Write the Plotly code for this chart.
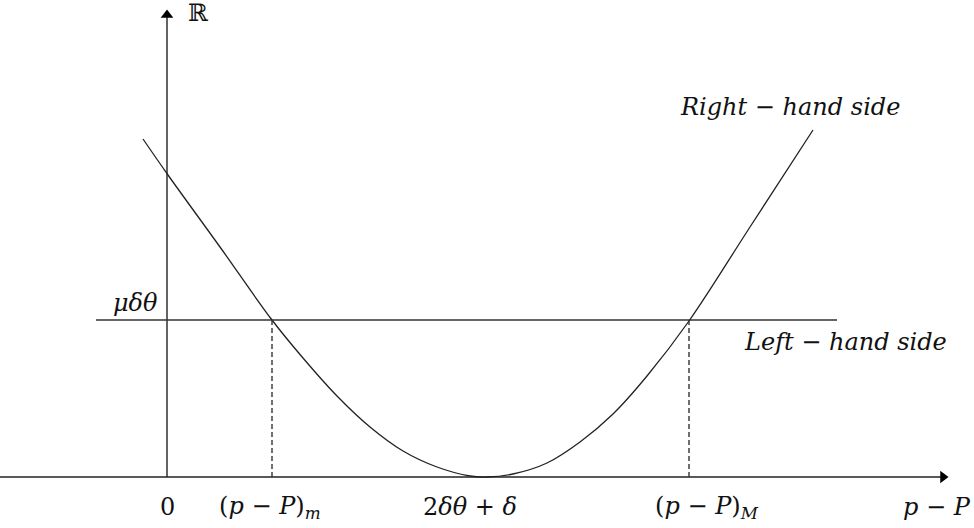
import plotly.graph_objects as go

# sketch of the two sides (arbitrary units, 0 at the origin)
curve_x = [-0.24, 0.01, 0.53, 1.05, 1.36, 1.70, 2.03, 2.36, 2.70, 3.03, 3.20,
           3.46, 3.80, 4.13, 4.46, 4.80, 5.22, 5.83, 6.46]
curve_y = [3.38, 3.02, 2.30, 1.57, 1.19, 0.81, 0.50, 0.26, 0.10, 0.01, 0.00,
           0.03, 0.14, 0.35, 0.63, 1.01, 1.56, 2.50, 3.47]

lhs_level = 1.57            # mu*delta*theta
lhs_x = [-0.71, 6.70]
x_m, x_M = 1.05, 5.22       # crossing points
x_axis = [-1.67, 7.76]
y_axis = [0.0, 4.62]

tick_pos = [0.0, 1.03, 3.03, 5.40]
tick_text = ["0",
             "(<i>p</i> − <i>P</i>)<sub><i>m</i></sub>",
             "2<i>δθ</i> + <i>δ</i>",
             "(<i>p</i> − <i>P</i>)<sub><i>M</i></sub>"]

FONT = "DejaVu Serif"
ink = "#222222"

fig = go.Figure()

# axes
fig.add_trace(go.Scatter(x=x_axis, y=[0, 0], mode="lines",
                         line=dict(color=ink, width=1.4)))
fig.add_trace(go.Scatter(x=[0, 0], y=y_axis, mode="lines",
                         line=dict(color=ink, width=1.4)))
fig.add_trace(go.Scatter(x=[x_axis[1]], y=[0], mode="markers",
                         marker=dict(symbol="triangle-right", size=11, color="black")))
fig.add_trace(go.Scatter(x=[0], y=[y_axis[1]], mode="markers",
                         marker=dict(symbol="triangle-up", size=11, color="black")))

# left-hand side level
fig.add_trace(go.Scatter(x=lhs_x, y=[lhs_level, lhs_level], mode="lines",
                         line=dict(color="#333333", width=1.4)))

# right-hand side curve
fig.add_trace(go.Scatter(x=curve_x, y=curve_y, mode="lines", line_shape="spline",
                         line=dict(color=ink, width=1.3)))

# dashed drop lines
for xv in [x_m, x_M]:
    fig.add_trace(go.Scatter(x=[xv, xv], y=[0, lhs_level], mode="lines",
                             line=dict(color="#333333", width=1.4, dash="5px,3px")))

def label(x, y, text, size=24, xanchor="center"):
    fig.add_annotation(x=x, y=y, text=text, showarrow=False, xanchor=xanchor,
                       yanchor="middle", font=dict(family=FONT, size=size, color="#111111"))

for xp, t in zip(tick_pos, tick_text):
    label(xp, -0.30, t)
label(7.70, -0.30, "<i>p</i> − <i>P</i>")
label(0.31, 4.64, "ℝ", size=24)
label(-0.07, 1.74, "<i>μδθ</i>", xanchor="right")
label(6.78, 1.35, "<i>Left</i> − <i>hand side</i>")
label(6.23, 3.70, "<i>Right</i> − <i>hand side</i>")

fig.update_xaxes(range=[-1.67, 8.07], visible=False)
fig.update_yaxes(range=[-0.51, 4.77], visible=False)
fig.update_layout(width=974, height=528, margin=dict(l=0, r=0, t=0, b=0),
                  showlegend=False, plot_bgcolor="white", paper_bgcolor="white")

# drop the page's default body margin so the figure sits at the window corner
fig.write_html("out.html", config={"displayModeBar": False},
               post_script="document.body.style.margin='0';document.body.style.overflow='hidden';")
